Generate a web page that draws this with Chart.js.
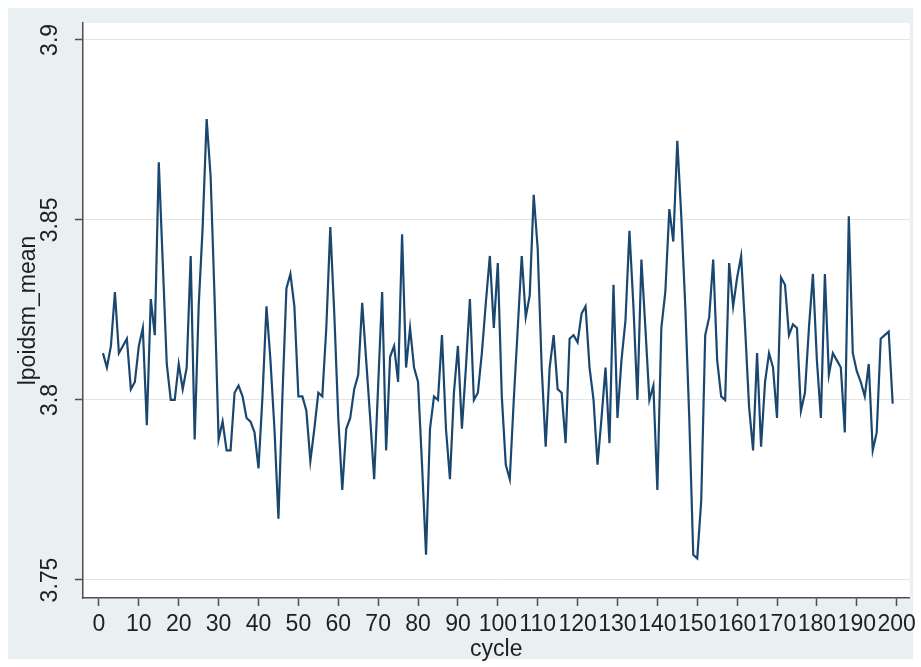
<!DOCTYPE html>
<html>
<head>
<meta charset="utf-8">
<script src="https://cdn.jsdelivr.net/npm/chart.js@4.4.0/dist/chart.umd.min.js"></script>
<style>
  html, body { margin: 0; padding: 0; background: #ffffff; }
  #wrap { width: 921px; height: 667px; }
</style>
</head>
<body>
<div id="wrap"><canvas id="c" width="921" height="667"></canvas></div>
<script>
// cycle index (x) and mean of lpoidsm (y)
const cycles = [
  1, 2, 3, 4, 5, 6, 7, 8, 9, 10, 11, 12, 13, 14, 15, 16, 17, 18, 19, 20,
  21, 22, 23, 24, 25, 26, 27, 28, 29, 30, 31, 32, 33, 34, 35, 36, 37, 38, 39, 40,
  41, 42, 43, 44, 45, 46, 47, 48, 49, 50, 51, 52, 53, 54, 55, 56, 57, 58, 59, 60,
  61, 62, 63, 64, 65, 66, 67, 68, 69, 70, 71, 72, 73, 74, 75, 76, 77, 78, 79, 80,
  81, 82, 83, 84, 85, 86, 87, 88, 89, 90, 91, 92, 93, 94, 95, 96, 97, 98, 99, 100,
  101, 102, 103, 104, 105, 106, 107, 108, 109, 110, 111, 112, 113, 114, 115, 116, 117, 118, 119, 120,
  121, 122, 123, 124, 125, 126, 127, 128, 129, 130, 131, 132, 133, 134, 135, 136, 137, 138, 139, 140,
  141, 142, 143, 144, 145, 146, 147, 148, 149, 150, 151, 152, 153, 154, 155, 156, 157, 158, 159, 160,
  161, 162, 163, 164, 165, 166, 167, 168, 169, 170, 171, 172, 173, 174, 175, 176, 177, 178, 179, 180,
  181, 182, 183, 184, 185, 186, 187, 188, 189, 190, 191, 192, 193, 194, 195, 196, 197, 198, 199
];

const lpoidsmMean = [
  3.813, 3.809, 3.815, 3.830, 3.813, 3.815, 3.817, 3.803, 3.805, 3.815,
  3.820, 3.793, 3.828, 3.818, 3.866, 3.838, 3.810, 3.800, 3.800, 3.810,
  3.803, 3.809, 3.840, 3.789, 3.826, 3.848, 3.878, 3.862, 3.828, 3.789,
  3.794, 3.786, 3.786, 3.802, 3.804, 3.801, 3.795, 3.794, 3.791, 3.781,
  3.801, 3.826, 3.811, 3.792, 3.767, 3.801, 3.831, 3.835, 3.826, 3.801,
  3.801, 3.797, 3.783, 3.792, 3.802, 3.801, 3.820, 3.848, 3.824, 3.795,
  3.775, 3.792, 3.795, 3.803, 3.807, 3.827, 3.811, 3.795, 3.778, 3.804,
  3.830, 3.786, 3.812, 3.815, 3.805, 3.846, 3.809, 3.820, 3.809, 3.805,
  3.782, 3.757, 3.792, 3.801, 3.800, 3.818, 3.792, 3.778, 3.802, 3.815,
  3.792, 3.809, 3.828, 3.800, 3.802, 3.813, 3.827, 3.840, 3.820, 3.838,
  3.801, 3.782, 3.778, 3.800, 3.820, 3.840, 3.823, 3.829, 3.857, 3.842,
  3.809, 3.787, 3.809, 3.818, 3.803, 3.802, 3.788, 3.817, 3.818, 3.816,
  3.824, 3.826, 3.809, 3.800, 3.782, 3.795, 3.809, 3.788, 3.832, 3.795,
  3.811, 3.822, 3.847, 3.826, 3.800, 3.839, 3.820, 3.800, 3.804, 3.775,
  3.820, 3.830, 3.853, 3.844, 3.872, 3.851, 3.826, 3.795, 3.757, 3.756,
  3.772, 3.818, 3.823, 3.839, 3.811, 3.801, 3.800, 3.838, 3.826, 3.834,
  3.840, 3.820, 3.798, 3.786, 3.813, 3.787, 3.805, 3.813, 3.809, 3.795,
  3.834, 3.832, 3.818, 3.821, 3.820, 3.797, 3.802, 3.820, 3.835, 3.811,
  3.795, 3.835, 3.807, 3.813, 3.811, 3.809, 3.791, 3.851, 3.813, 3.808,
  3.805, 3.801, 3.810, 3.786, 3.791, 3.817, 3.818, 3.819, 3.799
];

const xTicks = [0, 10, 20, 30, 40, 50, 60, 70, 80, 90, 100, 110, 120, 130, 140, 150, 160, 170, 180, 190, 200];
const yTicks = [3.75, 3.8, 3.85, 3.9];
const yTickLabels = ['3.75', '3.8', '3.85', '3.9'];

const FONT = '"Liberation Sans", Arial, Helvetica, sans-serif';
const FONT_SIZE = 23;
const TEXT = '#1f1f1f';
const AXIS = '#4f4f4f';

// graph region and plot region backgrounds
const backdrop = {
  id: 'backdrop',
  beforeDraw(chart) {
    const { ctx, chartArea: a } = chart;
    ctx.save();
    ctx.fillStyle = '#ffffff';
    ctx.fillRect(0, 0, chart.width, chart.height);
    ctx.fillStyle = '#e9f0f2';
    ctx.fillRect(8, 8, chart.width - 16, chart.height - 16);
    ctx.fillStyle = '#ffffff';
    ctx.fillRect(a.left, a.top, a.right - a.left, a.bottom - a.top);
    ctx.restore();
  }
};

// vertical y tick labels and y axis title
const yText = {
  id: 'yText',
  afterDraw(chart) {
    const { ctx, chartArea: a } = chart;
    const y = chart.scales.y;
    ctx.save();
    ctx.fillStyle = TEXT;
    ctx.textAlign = 'center';
    ctx.textBaseline = 'middle';
    ctx.font = FONT_SIZE + 'px ' + FONT;
    yTicks.forEach((v, i) => {
      ctx.save();
      ctx.translate(51, y.getPixelForValue(v));
      ctx.rotate(-Math.PI / 2);
      ctx.fillText(yTickLabels[i], 0, 0);
      ctx.restore();
    });
    ctx.save();
    ctx.translate(29, (a.top + a.bottom) / 2);
    ctx.rotate(-Math.PI / 2);
    ctx.fillText('lpoidsm_mean', 0, 0);
    ctx.restore();
    ctx.restore();
  }
};

new Chart(document.getElementById('c'), {
  type: 'line',
  data: {
    datasets: [{
      data: cycles.map((c, i) => ({ x: c, y: lpoidsmMean[i] })),
      borderColor: '#1a476f',
      borderWidth: 2.2,
      pointRadius: 0,
      tension: 0,
      fill: false
    }]
  },
  options: {
    responsive: false,
    animation: false,
    devicePixelRatio: 1,
    layout: { autoPadding: false, padding: { left: 0, top: 23, right: 9, bottom: 0 } },
    plugins: { legend: { display: false }, tooltip: { enabled: false } },
    scales: {
      x: {
        type: 'linear',
        min: -4,
        max: 203.25,
        afterBuildTicks: s => { s.ticks = xTicks.map(v => ({ value: v })); },
        afterFit: s => { s.height = 69; },
        grid: { drawOnChartArea: false, drawTicks: true, tickLength: 8, tickColor: AXIS, tickWidth: 1.5 },
        border: { color: AXIS, width: 1.5 },
        ticks: { font: { family: FONT, size: FONT_SIZE }, color: TEXT, padding: 5, maxRotation: 0, minRotation: 0, autoSkip: false },
        title: { display: true, text: 'cycle', font: { family: FONT, size: FONT_SIZE }, color: TEXT, padding: { top: 0, bottom: 4 } }
      },
      y: {
        type: 'linear',
        min: 3.745,
        max: 3.9047,
        afterBuildTicks: s => { s.ticks = yTicks.map(v => ({ value: v })); },
        afterFit: s => { s.width = 83; },
        grid: { color: '#e2e6e8', lineWidth: 1, drawTicks: true, tickLength: 8, tickColor: AXIS, tickWidth: 1.5 },
        border: { color: AXIS, width: 1.5 },
        ticks: { display: false }
      }
    }
  },
  plugins: [backdrop, yText]
});
</script>
</body>
</html>
